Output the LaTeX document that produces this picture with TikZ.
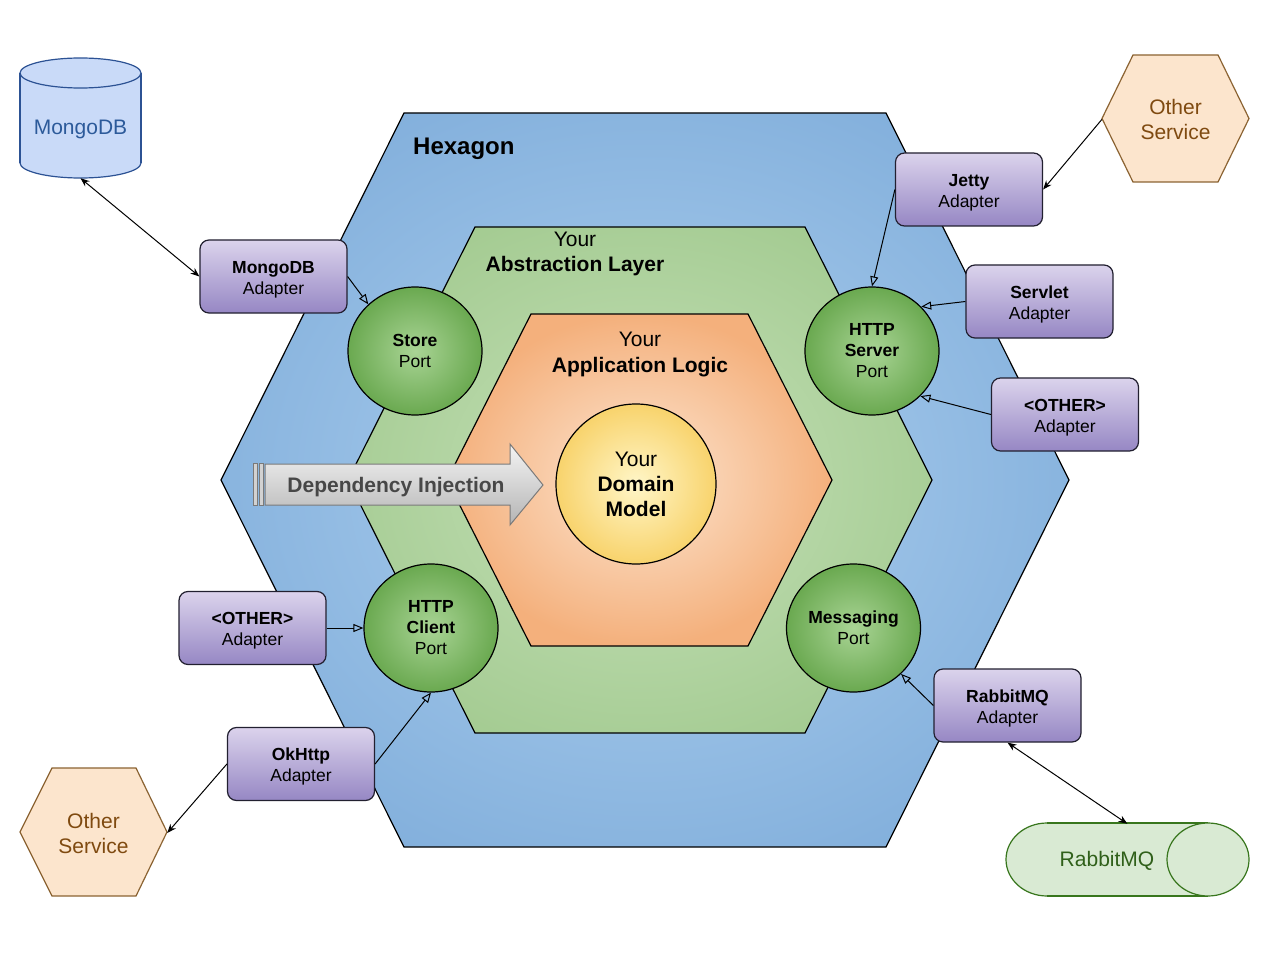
\documentclass[tikz,border=0pt]{standalone}
\usepackage{fontspec}
\setmainfont{Liberation Sans}
\usetikzlibrary{shapes.geometric,arrows.meta}
\definecolor{hexblueIn}{HTML}{AED0EF}
\definecolor{hexblueOut}{HTML}{7AA9D8}
\definecolor{greenIn}{HTML}{C6E1B9}
\definecolor{greenOut}{HTML}{9FC88C}
\definecolor{orangeIn}{HTML}{FDE6D2}
\definecolor{orangeOut}{HTML}{F4B07C}
\definecolor{domIn}{HTML}{FFF6C8}
\definecolor{domOut}{HTML}{F8D36C}
\definecolor{portIn}{HTML}{A9D495}
\definecolor{portOut}{HTML}{6AA950}
\definecolor{adTop}{HTML}{DBD3EC}
\definecolor{adBot}{HTML}{9687C4}
\definecolor{adDraw}{HTML}{222030}
\definecolor{svcFill}{HTML}{FCE5CD}
\definecolor{svcDraw}{HTML}{8B6332}
\definecolor{svcText}{HTML}{7F4A10}
\definecolor{mgFill}{HTML}{C9DAF8}
\definecolor{mgDraw}{HTML}{2C5294}
\definecolor{mgText}{HTML}{2C5A9A}
\definecolor{rbFill}{HTML}{D9EAD3}
\definecolor{rbDraw}{HTML}{38761D}
\definecolor{rbText}{HTML}{30601A}
\definecolor{diTop}{HTML}{F4F4F4}
\definecolor{diBot}{HTML}{B4B4B4}
\definecolor{diDraw}{HTML}{7A7A7A}
\definecolor{diText}{HTML}{474747}
\pgfdeclareradialshading{blueglow}{\pgfpoint{0bp}{0bp}}{color(0bp)=(hexblueIn); color(35bp)=(hexblueOut); color(50bp)=(hexblueOut)}
\pgfdeclareradialshading{greenglow}{\pgfpoint{0bp}{0bp}}{color(0bp)=(greenIn); color(33bp)=(greenOut); color(50bp)=(greenOut)}
\newcommand{\FontS}{\fontsize{17.5}{21}\selectfont}
\newcommand{\FontM}{\fontsize{21}{25}\selectfont}
\newcommand{\FontL}{\fontsize{24}{28}\selectfont}
\newcommand{\adlabel}[1]{\rule{0pt}{18.5pt}\textbf{#1}\\Adapter}
\begin{document}
\begin{tikzpicture}[x=1pt,y=-1pt,
  hexline/.style={draw=black, line width=1.2pt},
  port/.style={ellipse, draw=black, line width=1.2pt, inner color=portIn, outer color=portOut,
    minimum width=134pt, minimum height=128pt, inner sep=0pt, align=center, font=\FontS},
  adapter/.style={rectangle, rounded corners=9pt, draw=adDraw, line width=1.2pt,
    top color=adTop, bottom color=adBot, minimum width=147pt, minimum height=73pt,
    inner sep=0pt, align=center, font=\FontS},
  ghost/.style={inner sep=0pt, align=center},
  uses/.style={draw=black, line width=1pt, -{Triangle[open,length=10pt,width=8pt]}},
  talks/.style={draw=black, line width=1pt, {Stealth[length=9pt,width=7pt]}-{Stealth[length=9pt,width=7pt]}},
  calls/.style={draw=black, line width=1pt, -{Stealth[length=9pt,width=7pt]}},
  svcshape/.style={fill=svcFill, draw=svcDraw, line width=1.2pt},
  mgshape/.style={fill=mgFill, draw=mgDraw, line width=1.2pt},
  rbshape/.style={fill=rbFill, draw=rbDraw, line width=1.2pt},
]
\useasboundingbox (0,0) rectangle (1280,960);
\fill[white] (0,0) rectangle (1280,960);

% layers
\path[hexline, shading=blueglow]
  (404,113) -- (886,113) -- (1069,480) -- (886,847) -- (404,847) -- (221,480) -- cycle;
\path[hexline, shading=greenglow]
  (475,227) -- (805,227) -- (932,480) -- (805,733) -- (475,733) -- (348,480) -- cycle;
\path[hexline, inner color=orangeIn, outer color=orangeOut]
  (531,314) -- (748,314) -- (832,480) -- (748,646) -- (531,646) -- (447,480) -- cycle;

\node[anchor=west, font=\FontL\bfseries, inner sep=0pt] (hexlabel) at (413,149) {Hexagon};
\node[ghost, font=\FontM] (abslabel) at (575,254) {Your\\\textbf{Abstraction Layer}};
\node[ghost, font=\FontM] (applabel) at (640,354.5) {Your\\\textbf{Application Logic}};

\node[circle, draw=black, line width=1.2pt, inner color=domIn, outer color=domOut,
  minimum size=160pt, inner sep=0pt, align=center, font=\FontM] (domain) at (636,484)
  {Your\\\textbf{Domain}\\\textbf{Model}};

% dependency injection arrow
\path[draw=diDraw, fill=diBot!60, line width=0.8pt] (253,463) rectangle (257,505);
\path[draw=diDraw, fill=diBot!60, line width=0.8pt] (259,463) rectangle (263,505);
\path[draw=diDraw, line width=1pt, top color=diTop, bottom color=diBot]
  (265,464) -- (510,464) -- (510,444) -- (543,485) -- (510,525) -- (510,505) -- (265,505) -- cycle;
\node[ghost, font=\FontM\bfseries, text=diText] (di) at (396,487) {Dependency Injection};

% ports
\node[port] (store) at (415,351) {\textbf{Store}\\Port};
\node[port] (server) at (872,351) {\textbf{HTTP}\\\textbf{Server}\\Port};
\node[port] (client) at (431,628) {\textbf{HTTP}\\\textbf{Client}\\Port};
\node[port] (msg) at (853.5,628) {\textbf{Messaging}\\Port};

% adapters
\node[adapter] (mongoad) at (273.5,276.5) {\adlabel{MongoDB}};
\node[adapter] (jetty) at (969,189.5) {\adlabel{Jetty}};
\node[adapter] (servlet) at (1039.5,301.5) {\adlabel{Servlet}};
\node[adapter] (otherR) at (1065,414.5) {\adlabel{<OTHER>}};
\node[adapter] (otherL) at (252.5,628) {\adlabel{<OTHER>}};
\node[adapter] (okhttp) at (301,764) {\adlabel{OkHttp}};
\node[adapter] (rabad) at (1007.5,705.5) {\adlabel{RabbitMQ}};

% MongoDB cylinder
\filldraw[mgshape] (80.5,163) ellipse [x radius=60.5, y radius=15];
\fill[mgFill] (20,73) rectangle (141,163);
\draw[mgDraw, line width=1.2pt] (20,73) -- (20,163) (141,73) -- (141,163);
\filldraw[mgshape] (80.5,73) ellipse [x radius=60.5, y radius=15];
\node[ghost, minimum width=121pt, minimum height=98pt, font=\FontM, text=mgText] (mongo) at (80.5,129) {MongoDB};

% RabbitMQ cylinder
\filldraw[rbshape] (1047,859.5) ellipse [x radius=41, y radius=36.5];
\fill[rbFill] (1047,823) rectangle (1208,896);
\draw[rbDraw, line width=1.2pt] (1047,823) -- (1208,823) (1047,896) -- (1208,896);
\filldraw[rbshape] (1208,859.5) ellipse [x radius=41, y radius=36.5];
\node[ghost, minimum width=202pt, minimum height=73pt, font=\FontM, text=rbText] (rabbit) at (1107,860.5) {RabbitMQ};

% other services
\path[svcshape] (1102,118.5) -- (1133,55) -- (1218,55) -- (1249,118.5) -- (1218,182) -- (1133,182) -- cycle;
\node[ghost, minimum width=147pt, minimum height=127pt, font=\FontM, text=svcText] (svcA) at (1175.5,119.5) {Other\\Service};
\path[svcshape] (20,832) -- (52,768) -- (136,768) -- (167,832) -- (136,896) -- (52,896) -- cycle;
\node[ghost, minimum width=147pt, minimum height=128pt, font=\FontM, text=svcText] (svcB) at (93.5,833) {Other\\Service};

% connectors
\draw[talks] (mongo.south) -- (mongoad.west);
\draw[uses] (mongoad.east) -- (store.135);
\draw[calls] (svcA.west) -- (jetty.east);
\draw[uses] (jetty.west) -- (server.north);
\draw[uses] (servlet.west) -- (server.42);
\draw[uses] (otherR.west) -- (server.-43);
\draw[uses] (otherL.east) -- (client.west);
\draw[uses] (okhttp.east) -- (client.south);
\draw[calls] (okhttp.west) -- (svcB.east);
\draw[uses] (rabad.west) -- (msg.-44);
\draw[talks] (rabad.south) -- (rabbit.61);
\end{tikzpicture}
\end{document}
